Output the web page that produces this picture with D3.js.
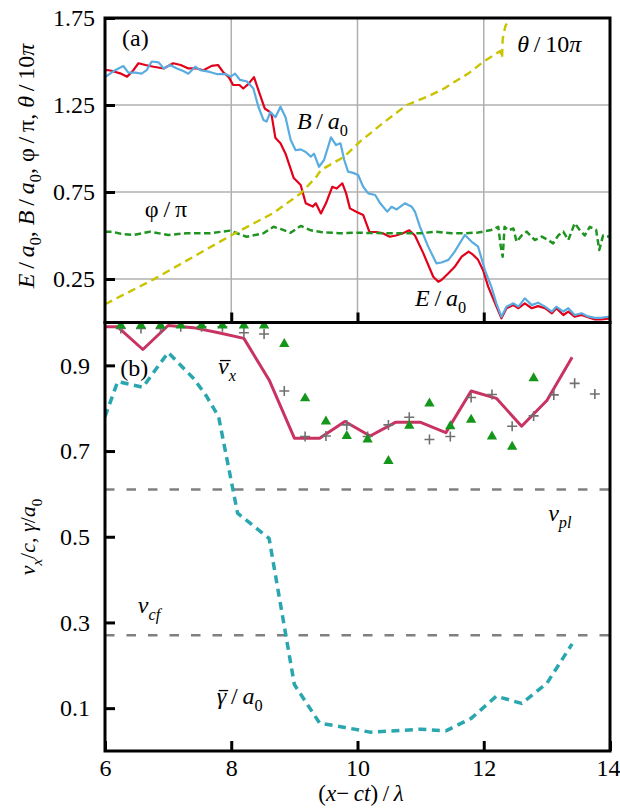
<!DOCTYPE html>
<html>
<head>
<meta charset="utf-8">
<script src="https://cdn.jsdelivr.net/npm/d3@7"></script>
<style>
body { margin: 0; background: #fff; }
svg { display: block; }
text { font-family: "Liberation Serif", "DejaVu Serif", serif; fill: #000; }
</style>
</head>
<body>
<svg id="chart" width="620" height="809"></svg>
<script>
// панель (a): поля E/a0, B/a0, фаза φ/π и θ/10π — пары [x, значение]
const eField = [[6.00,1.45],[6.03,1.451],[6.10,1.447],[6.24,1.432],[6.35,1.413],[6.45,1.45],[6.53,1.49],[6.64,1.48],
  [6.77,1.47],[6.93,1.46],[7.08,1.49],[7.20,1.48],[7.32,1.46],[7.45,1.46],[7.56,1.45],[7.69,1.475],[7.79,1.48],
  [7.87,1.44],[7.96,1.41],[8.03,1.365],[8.13,1.365],[8.19,1.345],[8.27,1.37],[8.36,1.41],[8.43,1.336],[8.53,1.23],
  [8.61,1.21],[8.64,1.19],[8.70,1.06],[8.78,1.03],[8.86,0.97],[8.99,0.83],[9.10,0.79],[9.18,0.685],[9.29,0.666],
  [9.34,0.685],[9.42,0.627],[9.50,0.685],[9.60,0.78],[9.67,0.77],[9.76,0.80],[9.82,0.742],[9.88,0.656],[9.98,0.637],
  [10.09,0.618],[10.19,0.52],[10.30,0.52],[10.40,0.513],[10.51,0.493],[10.61,0.50],[10.72,0.513],[10.82,0.53],
  [10.91,0.50],[11.04,0.40],[11.20,0.263],[11.28,0.234],[11.33,0.244],[11.44,0.283],[11.54,0.32],[11.65,0.378],
  [11.76,0.407],[11.83,0.39],[11.91,0.36],[11.99,0.30],[12.07,0.206],[12.18,0.11],[12.28,0.024],[12.36,0.082],
  [12.47,0.10],[12.55,0.082],[12.65,0.11],[12.76,0.082],[12.86,0.094],[12.97,0.082],[13.08,0.053],[13.15,0.082],
  [13.26,0.043],[13.34,0.063],[13.44,0.033],[13.55,0.043],[13.65,0.03],[13.76,0.018],[13.86,0.018],[13.97,0.022],[14.00,0.022]];

const bField = [[6.00,1.41],[6.03,1.417],[6.16,1.45],[6.29,1.474],[6.37,1.436],[6.48,1.436],[6.58,1.43],[6.66,1.45],
  [6.74,1.50],[6.85,1.495],[6.93,1.46],[7.03,1.48],[7.14,1.46],[7.24,1.445],[7.32,1.43],[7.43,1.47],[7.51,1.45],
  [7.66,1.44],[7.77,1.428],[7.91,1.428],[7.99,1.413],[8.06,1.43],[8.14,1.394],[8.25,1.385],[8.35,1.345],[8.43,1.24],
  [8.51,1.164],[8.56,1.155],[8.62,1.21],[8.70,1.18],[8.78,1.24],[8.86,1.18],[8.94,1.05],[9.02,0.99],[9.10,0.995],
  [9.18,0.98],[9.26,0.953],[9.31,0.97],[9.39,0.895],[9.47,0.934],[9.58,1.064],[9.66,1.02],[9.73,1.03],[9.79,0.934],
  [9.85,0.867],[9.93,0.86],[10.01,0.848],[10.09,0.78],[10.17,0.742],[10.28,0.733],[10.36,0.685],[10.47,0.637],
  [10.54,0.665],[10.62,0.65],[10.75,0.685],[10.86,0.665],[10.91,0.637],[10.99,0.55],[11.12,0.436],[11.25,0.34],
  [11.33,0.345],[11.44,0.36],[11.54,0.407],[11.70,0.503],[11.81,0.464],[11.91,0.436],[12.02,0.30],[12.12,0.206],
  [12.20,0.11],[12.28,0.033],[12.36,0.091],[12.47,0.11],[12.55,0.091],[12.65,0.139],[12.76,0.10],[12.86,0.114],
  [12.97,0.091],[13.08,0.063],[13.15,0.091],[13.26,0.063],[13.34,0.082],[13.44,0.043],[13.55,0.053],[13.65,0.035],
  [13.76,0.027],[13.86,0.027],[13.97,0.033],[14.00,0.033]];

const phiPi = [[6.00,0.522],[6.11,0.522],[6.25,0.51],[6.45,0.503],[6.71,0.522],[7.00,0.503],[7.29,0.513],[7.66,0.513],
  [7.98,0.528],[8.24,0.493],[8.51,0.513],[8.67,0.55],[8.80,0.535],[8.94,0.516],[9.10,0.555],[9.26,0.53],[9.42,0.52],
  [9.71,0.513],[10.00,0.516],[10.40,0.513],[10.75,0.513],[11.00,0.513],[11.23,0.522],[11.49,0.513],[11.70,0.513],
  [11.91,0.517],[12.12,0.532],[12.23,0.55],[12.27,0.436],[12.30,0.378],[12.33,0.55],[12.39,0.53],[12.47,0.54],
  [12.52,0.464],[12.60,0.50],[12.68,0.522],[12.81,0.474],[12.92,0.494],[13.02,0.474],[13.10,0.455],[13.18,0.50],
  [13.26,0.522],[13.34,0.474],[13.44,0.57],[13.52,0.532],[13.60,0.50],[13.68,0.55],[13.78,0.532],[13.83,0.417],
  [13.89,0.50],[13.94,0.494],[14.00,0.494]];

const theta10Pi = [[6.00,0.105],[6.77,0.248],[7.98,0.497],[8.67,0.63],[9.10,0.742],[9.35,0.838],[9.42,0.876],
  [9.79,0.953],[10.04,1.04],[10.40,1.145],[10.78,1.25],[11.12,1.30],[11.38,1.346],[11.54,1.384],[11.76,1.432],
  [12.00,1.50],[12.26,1.56],[12.29,1.52],[12.30,1.63],[12.34,1.70],[12.44,1.78]];

// панель (b): скорость, гамма, маркеры
const vxMean = [[5.8,0.99],[6.2,0.99],[6.6,0.937],[7.0,0.993],[7.4,0.988],[7.8,0.976],[8.2,0.963],[8.6,0.866],
  [9.0,0.73],[9.4,0.73],[9.8,0.769],[10.2,0.735],[10.6,0.767],[11.0,0.767],[11.4,0.743],[11.8,0.84],[12.2,0.823],
  [12.6,0.758],[13.0,0.818],[13.4,0.919]];

const gammaMean = [[6.0,0.78],[6.2,0.862],[6.6,0.849],[7.0,0.93],[7.4,0.87],[7.6,0.83],[7.8,0.78],[8.0,0.63],
  [8.1,0.555],[8.6,0.496],[9.0,0.155],[9.4,0.065],[9.8,0.055],[10.2,0.044],[10.6,0.047],[11.0,0.051],[11.4,0.047],
  [11.8,0.076],[12.2,0.128],[12.6,0.111],[13.0,0.158],[13.4,0.25]];

const markerX = [6.25,6.57,6.88,7.20,7.53,7.86,8.20,8.52,8.84,9.17,9.50,9.83,10.16,10.49,10.82,11.14,11.47,
  11.80,12.13,12.45,12.79,13.11,13.44,13.76];
const triangleV = [0.993,0.993,0.993,0.993,0.993,0.993,0.993,0.993,0.95,0.823,0.769,0.735,0.727,0.677,0.759,
  0.811,0.758,0.773,0.734,0.71,0.87];
const crossV = [0.986,0.986,0.986,0.99,0.99,0.99,0.976,0.973,0.84,0.734,0.735,0.761,0.734,0.761,0.779,0.727,
  0.734,0.825,0.832,0.758,0.782,0.831,0.858,0.833];

const vPl = 0.61;
const vCf = 0.27;

const xTicks = [6, 8, 10, 12, 14];
const topTicks = [0.25, 0.75, 1.25, 1.75];
const botTicks = [0.1, 0.3, 0.5, 0.7, 0.9];

const svg = d3.select("#chart");
const fs = 24;

const x = d3.scaleLinear().domain([6, 14]).range([105, 610]);
const yTop = d3.scaleLinear().domain([0, 1.75]).range([322.5, 18]);
const yBot = d3.scaleLinear().domain([0, 1]).range([751, 322.5]);

const defs = svg.append("defs");
defs.append("clipPath").attr("id", "clipTop").append("rect")
  .attr("x", 105).attr("y", 18).attr("width", 505).attr("height", 304.5);
defs.append("clipPath").attr("id", "clipBot").append("rect")
  .attr("x", 105).attr("y", 322.5).attr("width", 505).attr("height", 428.5);

// сетка верхней панели
const grid = svg.append("g").attr("stroke", "#b0b0b0").attr("stroke-width", 1.5);
grid.selectAll(".gx").data([8, 10, 12]).enter().append("line")
  .attr("x1", d => x(d)).attr("x2", d => x(d)).attr("y1", 18).attr("y2", 322.5);
grid.selectAll(".gy").data([0.25, 0.75, 1.25]).enter().append("line")
  .attr("x1", 105).attr("x2", 610).attr("y1", d => yTop(d)).attr("y2", d => yTop(d));

function drawLine(g, data, yScale, color, width, dash) {
  const line = d3.line().x(d => x(d[0])).y(d => yScale(d[1]));
  const p = g.append("path").datum(data)
    .attr("fill", "none").attr("stroke", color).attr("stroke-width", width)
    .attr("stroke-linejoin", "round").attr("d", line);
  if (dash) p.attr("stroke-dasharray", dash);
  return p;
}

const gTop = svg.append("g").attr("clip-path", "url(#clipTop)");
drawLine(gTop, eField, yTop, "#e2001a", 2.2);
drawLine(gTop, bField, yTop, "#5aace0", 2.2);
drawLine(gTop, phiPi, yTop, "#1f9421", 2.5, "6.5,3.5");
drawLine(gTop, theta10Pi, yTop, "#c9c300", 2.4, "8,5");

const gBot = svg.append("g").attr("clip-path", "url(#clipBot)");
gBot.selectAll(".ref").data([vPl, vCf]).enter().append("line")
  .attr("x1", x(6)).attr("x2", x(14)).attr("y1", d => yBot(d)).attr("y2", d => yBot(d))
  .attr("stroke", "#808080").attr("stroke-width", 2.5).attr("stroke-dasharray", "9.5,12");
drawLine(gBot, gammaMean, yBot, "#2aa6ae", 3.5, "8,5.5");
drawLine(gBot, vxMean, yBot, "#c93362", 3);

gBot.selectAll(".cross").data(crossV).enter().append("path")
  .attr("transform", (d, i) => `translate(${x(markerX[i])},${yBot(d)})`)
  .attr("d", "M-5,0H5M0,-5V5").attr("stroke", "#707070").attr("stroke-width", 1.6).attr("fill", "none");
gBot.selectAll(".tri").data(triangleV).enter().append("path")
  .attr("transform", (d, i) => `translate(${x(markerX[i])},${yBot(d)})`)
  .attr("d", d3.symbol(d3.symbolTriangle, 46)).attr("fill", "#14961a");

// рамки
svg.append("rect").attr("x", 105).attr("y", 18).attr("width", 505).attr("height", 304.5)
  .attr("fill", "none").attr("stroke", "#000").attr("stroke-width", 3);
svg.append("rect").attr("x", 105).attr("y", 322.5).attr("width", 505).attr("height", 428.5)
  .attr("fill", "none").attr("stroke", "#000").attr("stroke-width", 3);

function styleAxis(g) {
  g.select(".domain").remove();
  g.selectAll(".tick line").attr("stroke", "#000").attr("stroke-width", 3);
  g.selectAll(".tick text").attr("font-size", fs).attr("font-family", "Liberation Serif, serif");
}

svg.append("g").attr("transform", "translate(105,0)")
  .call(d3.axisLeft(yTop).tickValues(topTicks).tickSize(-10).tickPadding(10).tickFormat(d3.format(".2f")))
  .call(styleAxis);
svg.append("g").attr("transform", "translate(105,0)")
  .call(d3.axisLeft(yBot).tickValues(botTicks).tickSize(-10).tickPadding(15).tickFormat(d3.format(".1f")))
  .call(styleAxis);
svg.append("g").attr("transform", "translate(0,322.5)")
  .call(d3.axisBottom(x).tickValues([8, 10, 12]).tickSize(-10).tickFormat(""))
  .call(styleAxis);
const xAxisBot = svg.append("g").attr("transform", "translate(0,751)")
  .call(d3.axisBottom(x).tickValues(xTicks).tickSize(-10).tickPadding(8).tickFormat(d3.format("d")))
  .call(styleAxis);
// «14» прижимаем к правому краю, чтобы не обрезалось
xAxisBot.selectAll(".tick text").filter(d => d === 14).attr("text-anchor", "end").attr("x", 10);

// формульный текст: [строка, стиль] — n обычный, i курсив, ib курсив с чертой, s индекс, si курсивный индекс
function mathText(parent, px, py, parts, size, anchor) {
  const t = parent.append("text").attr("x", px).attr("y", py).attr("font-size", size)
    .attr("text-anchor", anchor || "start");
  let shift = 0, idx = 0;
  const bars = [];
  parts.forEach(([str, st]) => {
    const s = t.append("tspan").text(str);
    const isSub = st === "s" || st === "si";
    const target = isSub ? size * 0.3 : 0;
    if (target !== shift) { s.attr("dy", target - shift); shift = target; }
    if (st === "i" || st === "si" || st === "ib") s.attr("font-style", "italic");
    if (isSub) s.attr("font-size", size * 0.68);
    if (st === "ib") bars.push([idx, idx + str.length - 1]);
    idx += str.length;
  });
  bars.forEach(([a, b]) => {
    const n = t.node();
    const p0 = n.getStartPositionOfChar(a);
    const p1 = n.getEndPositionOfChar(b);
    parent.append("line")
      .attr("x1", p0.x + 2).attr("x2", p1.x + 2)
      .attr("y1", p0.y - size * 0.56).attr("y2", p0.y - size * 0.56)
      .attr("stroke", "#000").attr("stroke-width", 1.3);
  });
  return t;
}

const thin = "\u2009";
mathText(svg, x(6.27), 46, [["(a)", "n"]], fs);
mathText(svg, x(9.04), 129, [["B", "i"], [thin + "/" + thin, "n"], ["a", "i"], ["0", "s"]], fs);
mathText(svg, x(6.63), 217, [["φ" + thin + "/" + thin + "π", "n"]], fs);
mathText(svg, x(12.53), 52, [["θ", "i"], [thin + "/" + thin + "10", "n"], ["π", "i"]], fs);
mathText(svg, x(10.91), 306, [["E", "i"], [thin + "/" + thin, "n"], ["a", "i"], ["0", "s"]], fs);

mathText(svg, x(6.24), 376, [["(b)", "n"]], fs);
mathText(svg, x(7.79), 374, [["v", "ib"], ["x", "si"]], fs);
mathText(svg, x(13.02), 521, [["v", "i"], ["pl", "si"]], fs);
mathText(svg, x(6.52), 613, [["v", "i"], ["cf", "si"]], fs);
mathText(svg, x(7.77), 704, [["γ", "ib"], [thin + "/" + thin, "n"], ["a", "i"], ["0", "s"]], fs);

mathText(svg, 361, 801, [["(", "n"], ["x", "i"], ["−" + thin, "n"], ["ct", "i"], [")" + thin + "/" + thin, "n"], ["λ", "i"]], 23, "middle");

const yl1 = svg.append("g").attr("transform", "translate(34,166) rotate(-90)");
mathText(yl1, 0, 0, [["E", "i"], [thin + "/" + thin, "n"], ["a", "i"], ["0", "s"], [", ", "n"],
  ["B", "i"], [thin + "/" + thin, "n"], ["a", "i"], ["0", "s"], [", φ" + thin + "/" + thin + "π, ", "n"],
  ["θ", "i"], [thin + "/" + thin + "10", "n"], ["π", "i"]], fs, "middle");

const yl2 = svg.append("g").attr("transform", "translate(35,537) rotate(-90)");
mathText(yl2, 0, 0, [["v", "i"], ["x", "si"], ["/", "n"], ["c", "i"], [", ", "n"],
  ["γ", "i"], ["/", "n"], ["a", "i"], ["0", "s"]], 22, "middle");
</script>
</body>
</html>
